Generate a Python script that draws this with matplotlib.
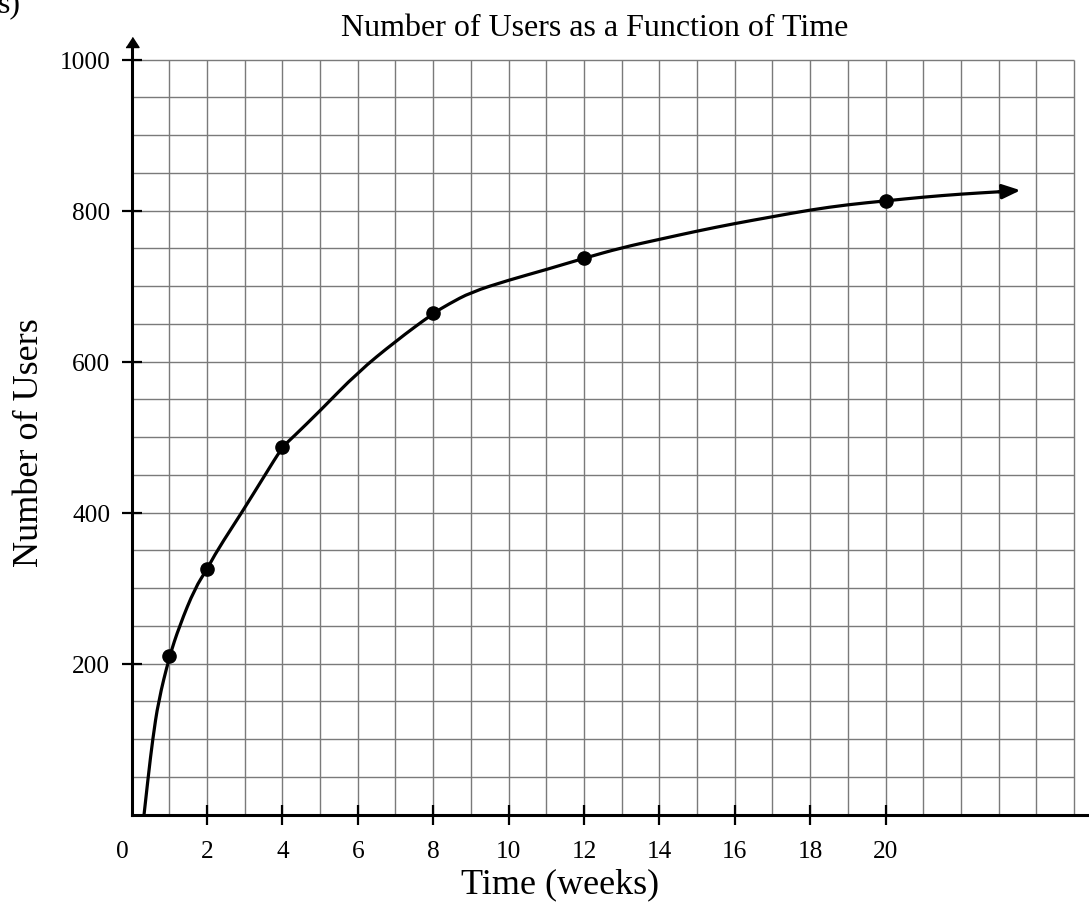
import matplotlib
matplotlib.use("Agg")
import matplotlib.pyplot as plt
from matplotlib.path import Path
from matplotlib.patches import PathPatch

# Data points (weeks, users)
weeks = [1, 2, 4, 8, 12, 20]
users = [210, 325, 487, 664, 737, 813]

# Curve
curve_x = [0.33, 0.44, 0.56, 0.71, 1.0, 1.27, 1.68, 2.0, 2.27, 2.92, 3.54, 4.0, 4.28,
           5.0, 6.0, 7.0, 8.0, 8.4, 9, 10, 11, 12, 13, 14, 15, 16, 17, 18, 19, 20,
           21, 22, 23]
curve_y = [0, 50, 100, 150, 209, 250, 300, 325, 350, 400, 450, 487, 500,
           535, 586, 627, 664, 676, 692, 708, 722, 737, 751, 762, 773, 783, 792, 801, 808, 813,
           818, 822, 825]
arrow_end = (23.58, 827)

x_ticks = [2, 4, 6, 8, 10, 12, 14, 16, 18, 20]
y_ticks = [200, 400, 600, 800, 1000]

plt.rcParams["font.family"] = ["Liberation Serif", "DejaVu Serif"]

fig = plt.figure(figsize=(10.89, 9.2), dpi=100)
ax = fig.add_axes([0.12084, 0.11337, 0.8793, 0.8535])
ax.set_xlim(0, 25.4)
ax.set_ylim(0, 1040)

# grid
grid_col = "#7a7a7a"
ax.vlines(range(1, 26), 0, 1000, colors=grid_col, lw=1.0, zorder=1)
ax.hlines(range(50, 1001, 50), 0, 25, colors=grid_col, lw=1.0, zorder=1)

# axes
for s in ["top", "right"]:
    ax.spines[s].set_visible(False)
ax.spines["bottom"].set_linewidth(2.2)
ax.spines["left"].set_linewidth(2.2)
ax.spines["left"].set_bounds(0, 1020)
ax.plot([0], [1023.5], marker=[(-6.5, -5), (6.5, -5), (0, 5)], ms=9.4,
        color="black", clip_on=False, zorder=5)

ax.set_xticks(x_ticks)
ax.set_yticks(y_ticks)
ax.tick_params(axis="both", direction="inout", length=14.4, width=1.6,
               labelsize=18.3, colors="black")
ax.tick_params(axis="x", pad=11)
ax.tick_params(axis="y", pad=8)
ax.text(-0.25, -48, "0", fontsize=18.3, ha="center", va="center")

# smooth curve through the traced points (quadratic segments)
verts = [(curve_x[0], curve_y[0])]
codes = [Path.MOVETO]
for i in range(1, len(curve_x) - 1):
    mx = (curve_x[i] + curve_x[i + 1]) / 2
    my = (curve_y[i] + curve_y[i + 1]) / 2
    verts += [(curve_x[i], curve_y[i]), (mx, my)]
    codes += [Path.CURVE3, Path.CURVE3]
verts.append((curve_x[-1], curve_y[-1]))
codes.append(Path.LINETO)
ax.add_patch(PathPatch(Path(verts, codes), fill=False, lw=2.3, color="black",
                       zorder=3, capstyle="round"))
ax.annotate("", xy=arrow_end, xytext=(curve_x[-1], curve_y[-1]),
            arrowprops=dict(arrowstyle="-|>,head_length=0.55,head_width=0.22",
                            lw=2.3, color="black", shrinkA=0, shrinkB=0,
                            mutation_scale=20), zorder=3)

ax.plot(weeks, users, "o", color="black", ms=9.5, zorder=4)

fig.text(595 / 1089, 1 - 28 / 920, "Number of Users as a Function of Time",
         fontsize=23, ha="center", va="center")
fig.text(560 / 1089, 1 - 885 / 920, "Time (weeks)", fontsize=26,
         ha="center", va="center")
fig.text(30 / 1089, 1 - 443 / 920, "Number of Users", fontsize=26,
         ha="center", va="center", rotation=90)
fig.text(-2 / 1089, 1 - 5 / 920, "s)", fontsize=23, ha="left", va="center")

fig.savefig("out.png", dpi=100)
